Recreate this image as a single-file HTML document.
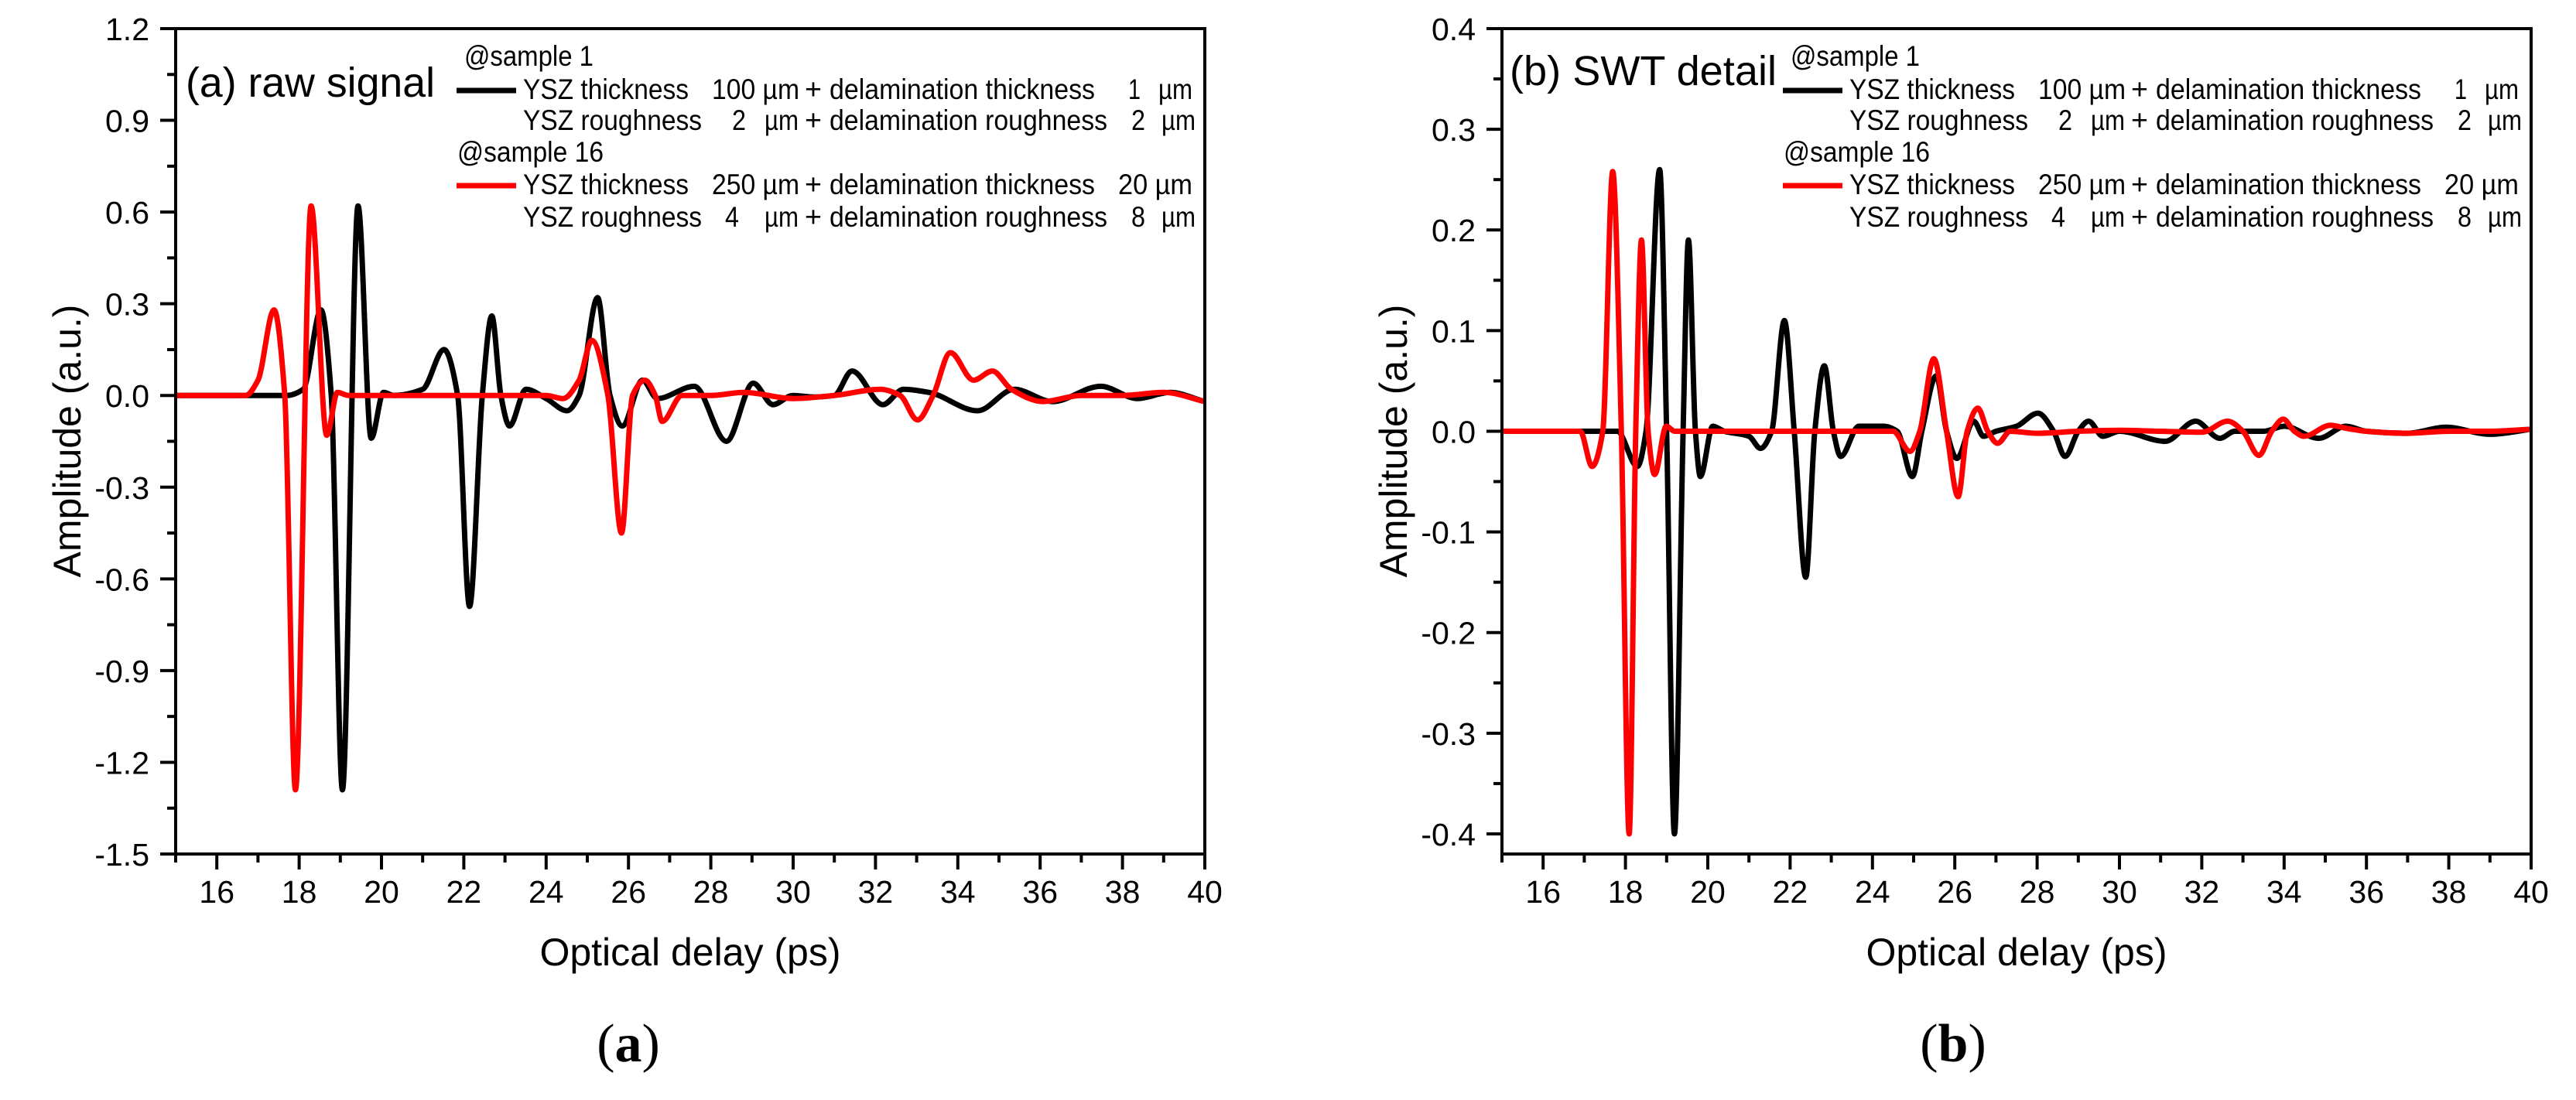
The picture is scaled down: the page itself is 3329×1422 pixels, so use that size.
<!DOCTYPE html>
<html><head><meta charset="utf-8"><style>
html,body{margin:0;padding:0;background:#fff;}
svg{display:block;font-family:"Liberation Sans",Arial,sans-serif;}
</style></head><body>
<svg id="fig" width="3329" height="1422" viewBox="0 0 3329 1422" xmlns="http://www.w3.org/2000/svg"></svg>
<script>
// ---- data (panel a: raw signal) ----
const aXTicks = [16,18,20,22,24,26,28,30,32,34,36,38,40];
const aYTicks = [1.2,0.9,0.6,0.3,0.0,-0.3,-0.6,-0.9,-1.2,-1.5];
const aYTickLabels = ["1.2","0.9","0.6","0.3","0.0","-0.3","-0.6","-0.9","-1.2","-1.5"];
const aBlackX = [15,17.7,18.1,18.53,18.78,19.05,19.43,19.75,20.05,20.3,21.0,21.52,21.85,22.14,22.45,22.68,22.9,23.11,23.51,24.0,24.51,24.8,25.25,25.55,25.85,26.34,26.7,27.6,28.38,29.03,29.51,29.99,30.5,31.0,31.43,32.18,32.68,33.3,34.48,35.37,36.3,37.47,38.36,39.16,40];
const aBlackY = [0,0,0.02,0.28,0.0,-1.29,0.62,-0.14,0.01,0,0.02,0.15,0,-0.69,0,0.26,0,-0.10,0.02,-0.01,-0.05,0,0.32,0,-0.10,0.05,-0.01,0.03,-0.15,0.04,-0.03,0.0,-0.005,0.0,0.08,-0.03,0.02,0.01,-0.05,0.02,-0.02,0.03,-0.01,0.01,-0.02];
const aRedX = [15,16.7,17.0,17.39,17.65,17.91,18.29,18.67,18.93,19.2,24.0,24.41,24.8,25.11,25.5,25.83,26.1,26.4,26.65,26.82,27.3,28.0,28.8,30.0,31.0,32.12,32.6,33.02,33.4,33.82,34.38,34.84,35.3,36.07,37.0,38.0,39.0,40];
const aRedY = [0,0,0.05,0.28,0,-1.29,0.62,-0.13,0.01,0,0,-0.01,0.05,0.18,0,-0.45,0,0.05,0,-0.085,0,0,0.01,-0.01,0,0.02,0,-0.08,0,0.14,0.05,0.08,0.02,-0.02,0,0,0.01,-0.02];
// ---- data (panel b: SWT detail) ----
const bXTicks = [16,18,20,22,24,26,28,30,32,34,36,38,40];
const bYTicks = [0.4,0.3,0.2,0.1,0.0,-0.1,-0.2,-0.3,-0.4];
const bYTickLabels = ["0.4","0.3","0.2","0.1","0.0","-0.1","-0.2","-0.3","-0.4"];
const bBlackX = [15,17.8,18.29,18.5,18.83,19.0,19.19,19.4,19.53,19.7,19.82,20.12,20.4,21.0,21.28,21.55,21.86,22.1,22.38,22.6,22.83,23.05,23.23,23.67,24.27,24.6,24.97,25.2,25.55,25.8,26.05,26.46,26.7,27.0,27.5,28.02,28.4,28.68,29.0,29.25,29.6,30.0,31.11,31.85,32.44,32.8,33.5,34.0,34.84,35.5,36.0,37.0,37.93,39.0,40];
const bBlackY = [0,0,-0.035,0,0.26,0,-0.40,0,0.19,0,-0.045,0.005,0,-0.005,-0.017,0,0.11,0,-0.145,0,0.065,0,-0.025,0.005,0.005,0,-0.045,0,0.055,0,-0.027,0.01,-0.005,0,0.005,0.018,0,-0.025,0,0.01,-0.005,0,-0.01,0.01,-0.007,0,0,0.005,-0.007,0.005,0,-0.002,0.004,-0.003,0.002];
const bRedX = [15,16.9,17.19,17.45,17.69,17.9,18.09,18.25,18.39,18.55,18.71,18.99,19.2,24.0,24.5,24.91,25.15,25.49,25.8,26.08,26.3,26.56,26.8,27.04,27.35,28.0,29.0,30.0,31.0,32.0,32.63,33.0,33.39,33.7,33.98,34.25,34.48,35.13,35.5,36.0,37.0,38.0,39.0,40];
const bRedY = [0,0,-0.035,0,0.258,0,-0.40,0,0.19,0,-0.043,0.005,0,0,0,-0.02,0,0.072,0,-0.065,0,0.023,0,-0.012,0,-0.002,0,0.001,0,-0.001,0.01,0,-0.024,0,0.012,0,-0.005,0.006,0.003,0,-0.002,0,0,0.002];

const NS = "http://www.w3.org/2000/svg";
const svg = document.getElementById('fig');
function mk(tag, attrs, parent){ const e=document.createElementNS(NS,tag); for(const k in attrs) e.setAttribute(k,attrs[k]); (parent||svg).appendChild(e); return e; }
function txt(s, attrs, parent){ const e=mk('text',attrs,parent); e.textContent=s; return e; }

function monoPath(px, py){
  const n=px.length, d=[], m=new Array(n);
  for(let i=0;i<n-1;i++) d.push((py[i+1]-py[i])/(px[i+1]-px[i]));
  m[0]=d[0]; m[n-1]=d[n-2];
  for(let i=1;i<n-1;i++){ if(d[i-1]*d[i]<=0) m[i]=0; else { const h0=px[i]-px[i-1], h1=px[i+1]-px[i]; m[i]=3*(h0+h1)/((2*h1+h0)/d[i-1]+(h1+2*h0)/d[i]); } }
  let p='M'+px[0].toFixed(1)+','+py[0].toFixed(1);
  for(let i=0;i<n-1;i++){ const h=(px[i+1]-px[i])/3;
    p+=' C'+(px[i]+h).toFixed(1)+','+(py[i]+m[i]*h).toFixed(1)+' '+(px[i+1]-h).toFixed(1)+','+(py[i+1]-m[i+1]*h).toFixed(1)+' '+px[i+1].toFixed(1)+','+py[i+1].toFixed(1); }
  return p;
}

function drawPanel(P){
  const g=mk('g',{});
  
  
  const sx=v=>P.L+(v-15)/(40-15)*(P.R-P.L);
  const sy=v=>P.T+(P.yMax-v)/(P.yMax-P.yMin)*(P.B-P.T);
  const clip=mk('clipPath',{id:'clip'+P.id},g);
  mk('rect',{x:P.L,y:P.T,width:P.R-P.L,height:P.B-P.T},clip);
  const series=[[P.bx,P.by,'#000','black'],[P.rx,P.ry,'#ff0000','red']];
  series.forEach(s=>{
    const path=mk('path',{d:monoPath(s[0].map(sx),s[1].map(sy)),fill:'none',stroke:s[2],'stroke-width':7,'stroke-linejoin':'round','clip-path':'url(#clip'+P.id+')'},g);
    
    
  });
  const fr=mk('rect',{x:P.L,y:P.T,width:P.R-P.L,height:P.B-P.T,fill:'none',stroke:'#000','stroke-width':4},g);
  
  
  for(let v=15; v<=40; v++){
    const major=(v%2===0);
    mk('line',{x1:sx(v),x2:sx(v),y1:P.B,y2:P.B+(major?20:11),stroke:'#000','stroke-width':4},g);
  }
  P.xt.forEach(v=>{
    const t=txt(String(v),{x:sx(v),y:P.B+63,'font-size':41,'text-anchor':'middle'},g);
    
    
  });
  P.yt.forEach((v,i)=>{
    mk('line',{x1:P.L-20,x2:P.L,y1:sy(v),y2:sy(v),stroke:'#000','stroke-width':4},g);
    if(i<P.yt.length-1){ const mv=(v+P.yt[i+1])/2; mk('line',{x1:P.L-11,x2:P.L,y1:sy(mv),y2:sy(mv),stroke:'#000','stroke-width':4},g); }
    const t=txt(P.ytl[i],{x:P.L-34,y:sy(v)+15,'font-size':41,'text-anchor':'end'},g);
    
    
  });
  const xt=txt('Optical delay (ps)',{x:(P.L+P.R)/2,y:1248,'font-size':50,'text-anchor':'middle'},g);
  
  
  const yx=P.L-140, yc=570;
  const yt=txt('Amplitude (a.u.)',{x:yx,y:yc,'font-size':50,'text-anchor':'middle',transform:'rotate(-90 '+yx+' '+yc+')',dy:17},g);
  
  
  const pt=txt(P.title,{x:P.L+P.titleDx,y:P.titleY,'font-size':54,textLength:P.titleW,lengthAdjust:'spacingAndGlyphs'},g);
  
  
  const o=P.L-227;
  const lg=mk('g',{},g);
  
  
  const segs=[
    ['@sample 1',600,85,167],
    ['YSZ thickness',676,128,214],['100 µm',920,128,113],['+',1040,128,22],['delamination thickness',1072,128,343],['1',1458,128,16],['µm',1497,128,44],
    ['YSZ roughness',676,168,231],['2',946,168,18],['µm',988,168,44],['+',1040,168,22],['delamination roughness',1072,168,359],['2',1462,168,18],['µm',1501,168,44],
    ['@sample 16',591,209,189],
    ['YSZ thickness',676,251,214],['250 µm',920,251,113],['+',1040,251,22],['delamination thickness',1072,251,343],['20 µm',1445,251,96],
    ['YSZ roughness',676,293,231],['4',937,293,18],['µm',988,293,44],['+',1040,293,22],['delamination roughness',1072,293,359],['8',1462,293,18],['µm',1501,293,44]
  ];
  segs.forEach(s=>{
    const t=txt(s[0],{x:s[1]+o,y:s[2],'font-size':37,textLength:s[3],lengthAdjust:'spacingAndGlyphs'},lg);
    
    
  });
  const l1=mk('line',{x1:590+o,x2:667+o,y1:117,y2:117,stroke:'#000','stroke-width':7},lg);
  
  
  const l2=mk('line',{x1:590+o,x2:667+o,y1:240,y2:240,stroke:'#ff0000','stroke-width':7},lg);
  
  
  const cap=mk('text',{x:P.capX,y:1372,'font-size':70,'text-anchor':'middle','font-family':'Liberation Serif, serif'},g);
  
  
  const t1=mk('tspan',{},cap); t1.textContent='(';
  const t2=mk('tspan',{'font-weight':'bold'},cap); t2.textContent=P.cap;
  const t3=mk('tspan',{},cap); t3.textContent=')';
}

drawPanel({id:'a',name:'panel-a-raw-signal',L:227,R:1557,T:37,B:1104,yMax:1.2,yMin:-1.5,
  xt:aXTicks,yt:aYTicks,ytl:aYTickLabels,bx:aBlackX,by:aBlackY,rx:aRedX,ry:aRedY,
  title:'(a) raw signal',titleDx:13,titleY:125,titleW:322,cap:'a',capX:812});
drawPanel({id:'b',name:'panel-b-swt-detail',L:1941,R:3271,T:37,B:1104,yMax:0.4,yMin:-0.42,
  xt:bXTicks,yt:bYTicks,ytl:bYTickLabels,bx:bBlackX,by:bBlackY,rx:bRedX,ry:bRedY,
  title:'(b) SWT detail',titleDx:10,titleY:110,titleW:345,cap:'b',capX:2524});
</script>
</body></html>
